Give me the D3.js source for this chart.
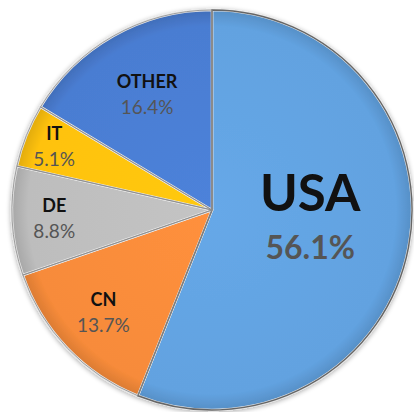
<!DOCTYPE html>
<html>
<head>
<meta charset="utf-8">
<script src="https://cdn.jsdelivr.net/npm/d3@7"></script>
<style>
  body { margin: 0; background: #fff; }
  svg { display: block; font-family: Lato, "Open Sans", sans-serif; }
</style>
</head>
<body>
<div id="chart"></div>
<script>
// data
const countries = ["USA", "CN", "DE", "IT", "OTHER"];
const shares = [56.1, 13.7, 8.8, 5.1, 16.4];
const colours = ["#62a2e0", "#f78b3a", "#bdbdbd", "#ffc20e", "#4a7dd2"];
// where each label sits, as a fraction of the radius
const labelRadius = [0.5, 0.75, 0.79, 0.85, 0.66];

const width = 414, height = 412;
const cx = 212, cy = 210, radius = 200;

const svg = d3.select("#chart").append("svg")
  .attr("width", width)
  .attr("height", height);

const defs = svg.append("defs");
const shadow = defs.append("filter").attr("id", "shadow")
  .attr("x", "-10%").attr("y", "-10%").attr("width", "120%").attr("height", "120%");
shadow.append("feGaussianBlur").attr("in", "SourceAlpha").attr("stdDeviation", 2.5);
shadow.append("feOffset").attr("dx", 0).attr("dy", 1).attr("result", "blur");
shadow.append("feComponentTransfer").append("feFuncA").attr("type", "linear").attr("slope", 0.35);
const merge = shadow.append("feMerge");
merge.append("feMergeNode");
merge.append("feMergeNode").attr("in", "SourceGraphic");

// soft bevel: slightly darker towards the rim
colours.forEach((c, i) => {
  const g = defs.append("radialGradient").attr("id", "grad" + i)
    .attr("gradientUnits", "userSpaceOnUse")
    .attr("cx", 0).attr("cy", 0).attr("r", radius);
  g.append("stop").attr("offset", "0%").attr("stop-color", d3.color(c).brighter(0.1));
  g.append("stop").attr("offset", "92%").attr("stop-color", c);
  g.append("stop").attr("offset", "100%").attr("stop-color", d3.color(c).darker(0.35));
});

const data = countries.map((name, i) => ({ name, value: shares[i], i }));

const pie = d3.pie().sort(null).value(d => d.value);
const arc = d3.arc().innerRadius(0).outerRadius(radius);
const arcs = pie(data);

const g = svg.append("g").attr("transform", `translate(${cx},${cy})`);

g.append("g").attr("filter", "url(#shadow)")
  .selectAll("path")
  .data(arcs)
  .join("path")
  .attr("d", arc)
  .attr("fill", d => `url(#grad${d.data.i})`)
  .attr("stroke", "#e6e6e6")
  .attr("stroke-width", 2.5)
  .attr("stroke-linejoin", "round");

// thin grey outline on top of the light edge
g.append("g")
  .selectAll("path")
  .data(arcs)
  .join("path")
  .attr("d", arc)
  .attr("fill", "none")
  .attr("stroke", d => d.data.name === "USA" ? "#666" : "#8a8a8a")
  .attr("stroke-width", d => d.data.name === "USA" ? 1.4 : 0.8);

const labels = g.append("g")
  .selectAll("g")
  .data(arcs)
  .join("g")
  .attr("transform", d => {
    const a = (d.startAngle + d.endAngle) / 2;
    const r = radius * labelRadius[d.data.i];
    return `translate(${Math.sin(a) * r},${-Math.cos(a) * r})`;
  });

labels.append("text")
  .attr("text-anchor", "middle")
  .attr("y", d => d.data.name === "USA" ? -18 : -7)
  .attr("font-size", d => d.data.name === "USA" ? 51 : 18)
  .attr("font-weight", "bold")
  .attr("fill", "#111")
  .text(d => d.data.name);

labels.append("text")
  .attr("text-anchor", "middle")
  .attr("y", d => d.data.name === "USA" ? 30 : 19)
  .attr("font-size", d => d.data.name === "USA" ? 32 : 19)
  .attr("font-weight", d => d.data.name === "USA" ? "bold" : "normal")
  .attr("fill", "#555")
  .text(d => d3.format(".1f")(d.data.value) + "%");
</script>
</body>
</html>
